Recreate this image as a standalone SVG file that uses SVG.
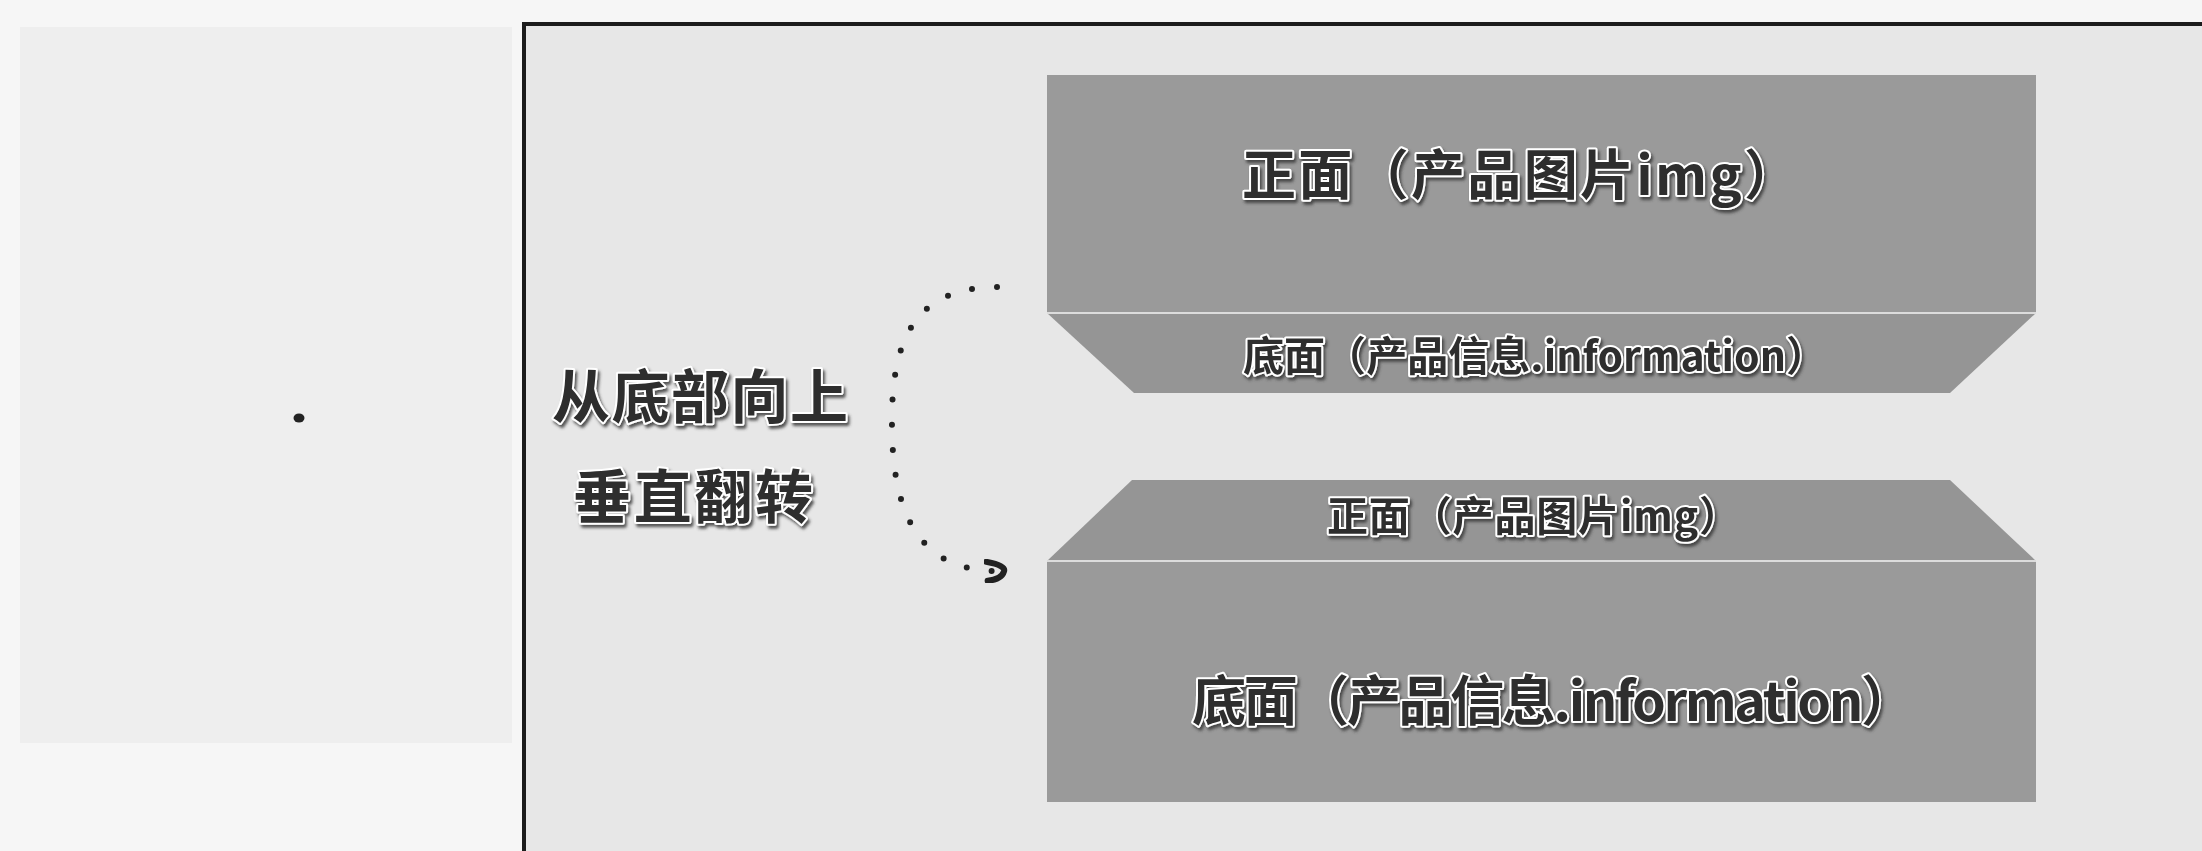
<svg xmlns="http://www.w3.org/2000/svg" width="2202" height="851" viewBox="0 0 2202 851">
<defs>
<style>
.lbl{font-family:"Noto Sans CJK SC","Noto Sans",sans-serif;font-weight:bold;fill:#2e2e2e;stroke:#ffffff;stroke-width:4;stroke-linejoin:round;paint-order:stroke;filter:url(#sh)}
.big{font-size:54px}
.small{font-size:41px}
.side{font-size:58px}
.face{fill:#9a9a9a}
.bevel{fill:#959595}
.sep{stroke:#dcdcdc;stroke-width:2}
.dots{fill:none;stroke:#222;stroke-width:6;stroke-linecap:round;stroke-dasharray:0 25}
</style>
<filter id="sh" x="-10%" y="-30%" width="120%" height="160%">
<feDropShadow dx="2" dy="3" stdDeviation="1.5" flood-color="#3a3a3a" flood-opacity="0.85"/>
</filter>
<marker id="arr" viewBox="0 0 12 12" refX="4" refY="6" markerWidth="4" markerHeight="4" markerUnits="strokeWidth" orient="auto">
<path d="M1 1.5 Q 11 3 10 6 Q 9 10 2 11" fill="none" stroke="#222" stroke-width="3" stroke-linecap="round"/>
</marker>
</defs>
<rect x="0" y="0" width="2202" height="851" fill="#f6f6f6"/>
<rect x="20" y="27" width="492" height="716" fill="#eeeeee"/>
<ellipse cx="299" cy="418" rx="5.5" ry="4.5" fill="#222"/>
<g id="frame">
<rect x="524" y="24" width="1700" height="860" fill="#e7e7e7" stroke="#1c1c1c" stroke-width="4"/>
</g>
<g id="node-top-front">
<rect class="face" x="1047" y="75" width="989" height="238"/>
<text class="lbl big" x="1242" y="195" textLength="556" lengthAdjust="spacing">正面（产品图片img）</text>
</g>
<g id="node-top-back">
<polygon class="bevel" points="1047,313 2036,313 1950,393 1134,393"/>
<line class="sep" x1="1047" y1="313" x2="2036" y2="313"/>
<text class="lbl small" x="1243" y="371" textLength="584" lengthAdjust="spacing">底面（产品信息.information）</text>
</g>
<g id="node-bottom-front">
<polygon class="bevel" points="1132,480 1950,480 2036,561 1047,561"/>
<text class="lbl small" x="1327" y="531" textLength="413" lengthAdjust="spacing">正面（产品图片img）</text>
</g>
<g id="node-bottom-back">
<rect class="face" x="1047" y="561" width="989" height="241"/>
<line class="sep" x1="1047" y1="561" x2="2036" y2="561"/>
<text class="lbl big" x="1192" y="721" textLength="723" lengthAdjust="spacing">底面（产品信息.information）</text>
</g>
<g id="label-flip">
<text class="lbl side" x="552" y="418" textLength="296" lengthAdjust="spacing">从底部向上</text>
<text class="lbl side" x="573" y="518" textLength="240" lengthAdjust="spacing">垂直翻转</text>
</g>
<g id="connectors">
<path class="dots" d="M 997 287 C 915 287, 893 340, 892 415 C 891 490, 905 568, 992 571" marker-end="url(#arr)"/>
</g>
</svg>
